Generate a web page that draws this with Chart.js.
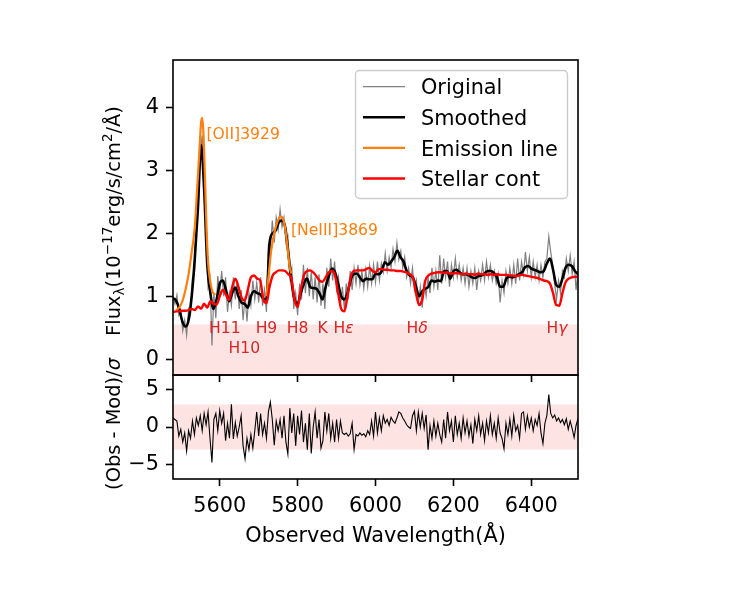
<!DOCTYPE html>
<html>
<head>
<meta charset="utf-8">
<title>Spectrum fit</title>
<script src="https://cdn.jsdelivr.net/npm/chart.js@4.4.0/dist/chart.umd.min.js"></script>
<style>
  html, body { margin: 0; padding: 0; background: #fff; }
  #wrap { position: relative; width: 750px; height: 600px; }
  canvas { position: absolute; left: 0; }
  #bottom { top: 345px; }
  #top { top: 0; }
</style>
</head>
<body>
<div id="wrap">
  <canvas id="bottom" width="750" height="255"></canvas>
  <canvas id="top" width="750" height="415"></canvas>
</div>
<script>
// Observed wavelength grid of the raw spectrum (5 A steps)
const waveFine = [
  5480, 5485, 5490, 5495, 5500, 5505, 5510, 5515, 5520, 5525,
  5530, 5535, 5540, 5545, 5550, 5555, 5560, 5565, 5570, 5575,
  5580, 5585, 5590, 5595, 5600, 5605, 5610, 5615, 5620, 5625,
  5630, 5635, 5640, 5645, 5650, 5655, 5660, 5665, 5670, 5675,
  5680, 5685, 5690, 5695, 5700, 5705, 5710, 5715, 5720, 5725,
  5730, 5735, 5740, 5745, 5750, 5755, 5760, 5765, 5770, 5775,
  5780, 5785, 5790, 5795, 5800, 5805, 5810, 5815, 5820, 5825,
  5830, 5835, 5840, 5845, 5850, 5855, 5860, 5865, 5870, 5875,
  5880, 5885, 5890, 5895, 5900, 5905, 5910, 5915, 5920, 5925,
  5930, 5935, 5940, 5945, 5950, 5955, 5960, 5965, 5970, 5975,
  5980, 5985, 5990, 5995, 6000, 6005, 6010, 6015, 6020, 6025,
  6030, 6035, 6040, 6045, 6050, 6055, 6060, 6065, 6070, 6075,
  6080, 6085, 6090, 6095, 6100, 6105, 6110, 6115, 6120, 6125,
  6130, 6135, 6140, 6145, 6150, 6155, 6160, 6165, 6170, 6175,
  6180, 6185, 6190, 6195, 6200, 6205, 6210, 6215, 6220, 6225,
  6230, 6235, 6240, 6245, 6250, 6255, 6260, 6265, 6270, 6275,
  6280, 6285, 6290, 6295, 6300, 6305, 6310, 6315, 6320, 6325,
  6330, 6335, 6340, 6345, 6350, 6355, 6360, 6365, 6370, 6375,
  6380, 6385, 6390, 6395, 6400, 6405, 6410, 6415, 6420, 6425,
  6430, 6435, 6440, 6445, 6450, 6455, 6460, 6465, 6470, 6475,
  6480, 6485, 6490, 6495, 6500, 6505, 6510, 6515, 6520
];

const fluxOriginal = [
  1.00, 0.88, 1.02, 0.70, 0.78, 0.45, 0.62, 0.38, 0.80, 0.72,
  1.30, 1.35, 2.10, 2.45, 3.30, 3.55, 2.80, 2.00, 1.15, 1.30,
  0.22, 1.05, 0.65, 1.32, 1.05, 1.40, 1.00, 1.30, 0.75, 1.05,
  0.85, 1.30, 0.95, 1.25, 0.80, 1.10, 0.62, 1.00, 0.60, 1.05,
  0.85, 1.25, 0.95, 1.22, 0.90, 1.30, 0.85, 1.10, 0.75, 1.80,
  1.75, 2.20, 1.85, 2.25, 2.05, 2.38, 2.10, 2.25, 1.85, 1.95,
  1.30, 1.45, 0.80, 1.05, 0.70, 1.20, 0.95, 1.50, 1.05, 1.45,
  1.00, 1.40, 0.95, 1.30, 0.90, 1.35, 0.85, 1.20, 0.80, 1.45,
  1.15, 1.60, 1.25, 1.55, 1.10, 1.30, 0.85, 1.15, 0.80, 1.20,
  0.95, 1.40, 1.10, 1.45, 1.20, 1.50, 1.18, 1.40, 1.12, 1.42,
  1.15, 1.48, 1.20, 1.50, 1.22, 1.55, 1.25, 1.52, 1.38, 1.68,
  1.40, 1.62, 1.45, 1.75, 1.55, 1.85, 1.58, 1.72, 1.45, 1.62,
  1.30, 1.45, 1.20, 1.45, 1.10, 1.25, 0.88, 1.15, 0.82, 1.20,
  1.00, 1.30, 1.05, 1.45, 1.15, 1.40, 1.10, 1.65, 1.20, 1.60,
  1.30, 1.55, 1.15, 1.50, 1.30, 1.60, 1.30, 1.50, 1.25, 1.45,
  1.20, 1.45, 1.15, 1.40, 1.20, 1.45, 1.10, 1.40, 1.25, 1.50,
  1.25, 1.55, 1.30, 1.50, 1.25, 1.40, 1.20, 1.35, 0.90, 1.25,
  1.05, 1.40, 1.20, 1.45, 1.20, 1.50, 1.20, 1.60, 1.25, 1.55,
  1.35, 1.70, 1.40, 1.62, 1.30, 1.55, 1.30, 1.50, 1.25, 1.50,
  1.30, 1.55, 1.60, 1.95, 1.70, 1.50, 1.20, 0.95, 1.25, 1.05,
  1.40, 1.30, 1.60, 1.40, 1.65, 1.35, 1.55, 1.10, 1.40
];

// (Obs - Mod)/sigma on the same grid
const residual = [
  1.2, 1.0, 0.8, -1.2, -0.3, -2.0, -0.8, -3.2, -0.5, -1.5,
  0.8, -1.0, 1.2, 0.2, 1.5, -0.5, 1.8, 0.3, 2.0, -1.5,
  -4.7, 1.0, 1.8, -0.5, 2.2, 0.5, 1.8, -1.8, 0.5, -1.5,
  3.0, -1.6, 0.6, -1.2, 0.0, 1.5, -2.5, -4.2, -1.5, -3.0,
  -1.0, -2.8, -0.5, 2.0, -1.2, 1.8, -1.0, 0.5, -1.5, 2.0,
  3.3, 1.0, -2.4, 0.8, -0.5, 1.0, -1.5, 1.5, -2.0, -3.6,
  2.5, -0.8, 1.8, -2.5, 1.5, -1.0, 2.2, -2.0, 0.5, -3.0,
  1.8, -3.5, 0.0, 2.0, -1.5, 1.0, -2.8, -1.8, 2.0, -0.5,
  1.8, -1.5, 0.5, -2.0, 1.0, -1.5, 0.8, -0.8, -1.0, -0.8,
  -1.2, -0.9, 0.5, -3.0, -1.0, -1.2, -0.8, -1.1, -0.9, -1.3,
  -0.5, -1.0, 0.8, -1.2, 2.0, -0.8, 1.2, -0.5, 1.5, 0.5,
  1.0, 0.2, 1.3, 0.8, 0.5, 1.2, 2.0, 1.8, 1.2, 0.8,
  0.3, 0.0, -0.2, 1.5, 2.1, -0.5, 2.0, 0.0, 1.8, -0.2,
  1.6, -3.0, 0.2, -1.5, 0.8, -1.2, 0.5, -1.0, -2.0, 1.0,
  -1.5, 2.0, -0.5, 0.8, -2.0, 1.5, -1.0, 0.5, -1.5, 1.2,
  -0.8, 0.8, -1.2, 0.3, -2.2, 1.0, -0.5, 1.5, -1.0, 0.5,
  -1.8, 0.8, -0.8, 1.5, -1.0, 0.5, -1.5, 1.2, -0.8, -1.5,
  -2.9, 0.5, -1.0, 1.0, -1.2, 1.5, -0.5, 0.2, -1.5, 1.8,
  2.0, -0.3, 1.5, 0.0, 1.2, -0.5, 1.0, 0.2, 1.8, -0.8,
  -2.2, 0.5, 1.5, 4.3, 1.8, 1.2, 1.6, 0.8, 1.2, 0.6,
  1.0, 0.3, 1.1, -0.3, 0.8, -0.2, -1.4, 0.2, 1.1
];

// Smoothed spectrum and stellar continuum model (8 A steps)
const waveSmooth = [
  5480, 5488, 5496, 5504, 5512, 5520, 5528, 5536, 5544, 5552,
  5560, 5568, 5576, 5584, 5592, 5600, 5608, 5616, 5624, 5632,
  5640, 5648, 5656, 5664, 5672, 5680, 5688, 5696, 5704, 5712,
  5720, 5728, 5736, 5744, 5752, 5760, 5768, 5776, 5784, 5792,
  5800, 5808, 5816, 5824, 5832, 5840, 5848, 5856, 5864, 5872,
  5880, 5888, 5896, 5904, 5912, 5920, 5928, 5936, 5944, 5952,
  5960, 5968, 5976, 5984, 5992, 6000, 6008, 6016, 6024, 6032,
  6040, 6048, 6056, 6064, 6072, 6080, 6088, 6096, 6104, 6112,
  6120, 6128, 6136, 6144, 6152, 6160, 6168, 6176, 6184, 6192,
  6200, 6208, 6216, 6224, 6232, 6240, 6248, 6256, 6264, 6272,
  6280, 6288, 6296, 6304, 6312, 6320, 6328, 6336, 6344, 6352,
  6360, 6368, 6376, 6384, 6392, 6400, 6408, 6416, 6424, 6432,
  6440, 6448, 6456, 6464, 6472, 6480, 6488, 6496, 6504, 6512,
  6520
];

const fluxSmoothed = [
  0.97, 0.93, 0.80, 0.60, 0.52, 0.62, 1.00, 1.60, 2.40, 3.40,
  2.70, 1.50, 1.05, 0.80, 0.95, 1.20, 1.25, 1.10, 0.92, 1.05,
  1.14, 1.00, 0.90, 0.88, 0.82, 1.00, 1.08, 1.05, 1.03, 0.96,
  0.95, 1.85, 2.00, 2.05, 2.18, 2.20, 2.10, 1.70, 1.25, 0.95,
  0.88, 1.05, 1.20, 1.28, 1.15, 1.13, 1.12, 1.05, 0.95, 1.15,
  1.32, 1.44, 1.38, 1.20, 1.00, 0.95, 1.05, 1.25, 1.35, 1.36,
  1.30, 1.24, 1.28, 1.27, 1.27, 1.36, 1.35, 1.40, 1.54, 1.50,
  1.55, 1.62, 1.72, 1.62, 1.55, 1.40, 1.33, 1.30, 1.15, 1.00,
  1.08, 1.12, 1.15, 1.25, 1.23, 1.25, 1.24, 1.40, 1.40, 1.28,
  1.40, 1.42, 1.38, 1.35, 1.35, 1.33, 1.30, 1.29, 1.32, 1.33,
  1.36, 1.40, 1.40, 1.37, 1.30, 1.15, 1.15, 1.28, 1.31, 1.30,
  1.32, 1.35, 1.38, 1.46, 1.48, 1.44, 1.42, 1.40, 1.38, 1.40,
  1.52, 1.60, 1.42, 1.18, 1.15, 1.28, 1.45, 1.50, 1.48, 1.40,
  1.35
];

const fluxStellar = [
  0.75, 0.76, 0.76, 0.77, 0.77, 0.78, 0.80, 0.78, 0.84, 0.80,
  0.88, 0.82, 0.92, 0.88, 0.87, 1.00, 1.10, 1.02, 0.94, 1.15,
  1.28, 1.15, 0.98, 0.93, 1.10, 1.30, 1.33, 1.28, 1.25, 0.95,
  0.89, 1.15, 1.33, 1.38, 1.41, 1.41, 1.40, 1.35, 1.28, 0.95,
  0.83, 1.10, 1.33, 1.40, 1.41, 1.38, 1.32, 1.25, 1.23, 1.30,
  1.38, 1.40, 1.33, 1.05, 0.80, 0.76, 1.00, 1.30, 1.40, 1.41,
  1.41, 1.41, 1.43, 1.45, 1.40, 1.38, 1.43, 1.43, 1.42, 1.42,
  1.41, 1.41, 1.40, 1.40, 1.39, 1.38, 1.35, 1.30, 1.05, 0.86,
  0.95, 1.25, 1.33, 1.36, 1.37, 1.38, 1.38, 1.37, 1.38, 1.36,
  1.36, 1.37, 1.36, 1.35, 1.36, 1.35, 1.35, 1.34, 1.36, 1.35,
  1.35, 1.34, 1.35, 1.34, 1.35, 1.34, 1.34, 1.34, 1.33, 1.33,
  1.32, 1.33, 1.34, 1.33, 1.32, 1.31, 1.30, 1.29, 1.27, 1.25,
  1.24, 1.20, 1.05, 0.86, 0.85, 1.05, 1.22, 1.28, 1.30, 1.31,
  1.31
];

// Emission line fits (line + continuum)
const waveOII = [5488, 5496, 5504, 5512, 5520, 5528, 5536, 5542, 5548, 5552, 5555, 5558, 5562, 5566, 5570, 5574, 5580, 5588];
const fluxOII = [0.78, 0.82, 0.92, 1.10, 1.35, 1.70, 2.10, 2.70, 3.32, 3.75, 3.83, 3.60, 2.90, 2.10, 1.55, 1.30, 1.10, 1.02];
const waveNeIII = [5720, 5726, 5732, 5740, 5748, 5756, 5762, 5768, 5774, 5780, 5784];
const fluxNeIII = [1.00, 1.35, 1.72, 2.00, 2.18, 2.27, 2.24, 2.08, 1.78, 1.45, 1.36];

// ticks and bands
const waveTicks = [5600, 5800, 6000, 6200, 6400];
const fluxTicks = [0, 1, 2, 3, 4];
const residTicks = [-5, 0, 5];
const fluxBandTop = 0.55;
const residBand = 3;

// annotations (anchored in data units)
const emissionLabels = ['[OII]3929', '[NeIII]3869'];
const emissionLabelWave = [5566, 5783];
const emissionLabelFlux = [3.50, 1.98];
const absLabels = ['H11', 'H10', 'H9', 'H8', 'K', 'H\u03b5', 'H\u03b4', 'H\u03b3'];
const absLabelWave = [5613, 5663, 5720, 5800, 5864, 5918, 6107, 6466];
const absLabelFlux = [0.41, 0.10, 0.41, 0.41, 0.41, 0.41, 0.41, 0.41];

const legendLabels = ['Original', 'Smoothed', 'Emission line', 'Stellar cont'];

const GRAY = '#808080';
const ORANGE = '#ff7f0e';
const RED = '#ff0000';
const LABEL_RED = '#d62728';
const BAND = 'rgba(250, 128, 128, 0.22)';
const FONT = '"DejaVu Sans", sans-serif';
const TICK_SIZE = 20.8;

Chart.defaults.font.family = FONT;
Chart.defaults.color = '#000';

const pts = (xs, ys) => xs.map((x, i) => ({ x: x, y: ys[i] }));

// draws a run of text pieces, with optional italic / super / subscript pieces
function drawRich(ctx, parts, o) {
  const fontOf = p => (p.italic ? 'italic ' : '') + ((p.sub || p.sup) ? o.size * 0.7 : o.size) + 'px ' + FONT;
  ctx.save();
  ctx.translate(o.x, o.y);
  if (o.rotate) ctx.rotate(-Math.PI / 2);
  let total = 0;
  const widths = parts.map(p => {
    ctx.font = fontOf(p);
    const w = ctx.measureText(p.t).width;
    total += w;
    return w;
  });
  let x = o.align === 'left' ? 0 : -total / 2;
  ctx.fillStyle = o.color || '#000';
  ctx.textAlign = 'left';
  ctx.textBaseline = 'alphabetic';
  parts.forEach((p, i) => {
    ctx.font = fontOf(p);
    const dy = p.sup ? -0.42 * o.size : (p.sub ? 0.22 * o.size : 0);
    ctx.fillText(p.t, x, dy);
    x += widths[i];
  });
  ctx.restore();
}

function greekParts(text) {
  return Array.from(text).map(ch => ({ t: ch, italic: /[\u03b1-\u03c9]/.test(ch) }));
}

function fixedTicks(list) {
  return scale => { scale.ticks = list.map(v => ({ value: v })); };
}

const tickGrid = { drawOnChartArea: false, drawTicks: true, tickLength: 7, tickColor: '#000', tickWidth: 1.6 };

const framePlugin = {
  id: 'frame',
  afterDatasetsDraw(chart) {
    const { ctx, chartArea: a } = chart;
    ctx.save();
    ctx.strokeStyle = '#000';
    ctx.lineWidth = 1.6;
    ctx.strokeRect(a.left, a.top, a.right - a.left, a.bottom - a.top);
    ctx.restore();
  }
};

// labels, legend and y title of the flux panel
const fluxDecor = {
  id: 'fluxDecor',
  afterDatasetsDraw(chart) {
    const { ctx, scales } = chart;
    emissionLabels.forEach((t, i) => {
      drawRich(ctx, [{ t: t }], {
        x: scales.x.getPixelForValue(emissionLabelWave[i]),
        y: scales.y.getPixelForValue(emissionLabelFlux[i]),
        size: 15.6, align: 'left', color: ORANGE
      });
    });
    absLabels.forEach((t, i) => {
      drawRich(ctx, greekParts(t), {
        x: scales.x.getPixelForValue(absLabelWave[i]),
        y: scales.y.getPixelForValue(absLabelFlux[i]),
        size: 15.6, align: 'center', color: LABEL_RED
      });
    });
  },
  afterDraw(chart) {
    const ctx = chart.ctx;
    // legend
    const styles = [
      { color: GRAY, width: 1.2 },
      { color: '#000', width: 2.6 },
      { color: ORANGE, width: 2.2 },
      { color: RED, width: 2.4 }
    ];
    ctx.save();
    ctx.beginPath();
    ctx.roundRect(355.5, 70.5, 212, 128, 4);
    ctx.fillStyle = 'rgba(255,255,255,0.8)';
    ctx.fill();
    ctx.strokeStyle = '#cccccc';
    ctx.lineWidth = 1.4;
    ctx.stroke();
    legendLabels.forEach((lab, i) => {
      const cy = 86.7 + i * 30.6;
      ctx.beginPath();
      ctx.moveTo(363, cy);
      ctx.lineTo(405, cy);
      ctx.strokeStyle = styles[i].color;
      ctx.lineWidth = styles[i].width;
      ctx.stroke();
      ctx.fillStyle = '#000';
      ctx.font = TICK_SIZE + 'px ' + FONT;
      ctx.textBaseline = 'alphabetic';
      ctx.fillText(lab, 421, cy + 7.6);
    });
    ctx.restore();
    drawRich(ctx, [
      { t: 'Flux' }, { t: '\u03bb', sub: true }, { t: '(10' }, { t: '\u221217', sup: true },
      { t: 'erg/s/cm' }, { t: '2', sup: true }, { t: '/\u00c5)' }
    ], { x: 120, y: 221, size: 19.4, rotate: true });
  }
};

const residDecor = {
  id: 'residDecor',
  afterDraw(chart) {
    const { ctx, scales } = chart;
    // wavelength tick labels
    waveTicks.forEach(v => {
      drawRich(ctx, [{ t: String(v) }], { x: scales.x.getPixelForValue(v), y: scales.x.top + 33, size: TICK_SIZE });
    });
    drawRich(ctx, [{ t: '(Obs - Mod)/' }, { t: '\u03c3', italic: true }], { x: 120, y: 79, size: 19.4, rotate: true });
    drawRich(ctx, [{ t: 'Observed Wavelength(\u00c5)' }], { x: 375.5, y: 197, size: TICK_SIZE });
  }
};

const lineDefaults = { pointRadius: 0, fill: false };

new Chart(document.getElementById('top'), {
  type: 'line',
  data: {
    datasets: [
      { ...lineDefaults, data: pts([5480, 6520], [fluxBandTop, fluxBandTop]), borderWidth: 0, borderColor: 'rgba(0,0,0,0)', backgroundColor: BAND, fill: 'start', order: 6 },
      { ...lineDefaults, data: pts(waveFine, fluxOriginal), borderColor: GRAY, borderWidth: 1.2, order: 5 },
      { ...lineDefaults, data: pts(waveSmooth, fluxSmoothed), borderColor: '#000', borderWidth: 2.6, cubicInterpolationMode: 'monotone', order: 4 },
      { ...lineDefaults, data: pts(waveOII, fluxOII), borderColor: ORANGE, borderWidth: 2.2, cubicInterpolationMode: 'monotone', order: 3 },
      { ...lineDefaults, data: pts(waveNeIII, fluxNeIII), borderColor: ORANGE, borderWidth: 2.2, cubicInterpolationMode: 'monotone', order: 3 },
      { ...lineDefaults, data: pts(waveSmooth, fluxStellar), borderColor: RED, borderWidth: 2.4, cubicInterpolationMode: 'monotone', order: 1 }
    ]
  },
  options: {
    responsive: false,
    animation: false,
    events: [],
    layout: { padding: { left: 0, right: 172, top: 60, bottom: 0 } },
    plugins: { legend: { display: false }, tooltip: { enabled: false } },
    scales: {
      x: {
        type: 'linear', min: 5480, max: 6520,
        afterBuildTicks: fixedTicks(waveTicks),
        ticks: { display: false },
        grid: tickGrid,
        border: { display: false },
        afterFit: s => { s.height = 40; }
      },
      y: {
        type: 'linear', min: -0.25, max: 4.75,
        afterBuildTicks: fixedTicks(fluxTicks),
        ticks: { font: { size: TICK_SIZE }, padding: 7, color: '#000' },
        grid: tickGrid,
        border: { display: false },
        afterFit: s => { s.width = 173; }
      }
    }
  },
  plugins: [framePlugin, fluxDecor]
});

new Chart(document.getElementById('bottom'), {
  type: 'line',
  data: {
    datasets: [
      { ...lineDefaults, data: pts([5480, 6520], [residBand, residBand]), borderWidth: 0, borderColor: 'rgba(0,0,0,0)', backgroundColor: BAND, fill: '+1', order: 3 },
      { ...lineDefaults, data: pts([5480, 6520], [-residBand, -residBand]), borderWidth: 0, borderColor: 'rgba(0,0,0,0)', order: 3 },
      { ...lineDefaults, data: pts(waveFine, residual), borderColor: '#000', borderWidth: 1.1, order: 1 }
    ]
  },
  options: {
    responsive: false,
    animation: false,
    events: [],
    layout: { padding: { left: 0, right: 172, top: 30, bottom: 0 } },
    plugins: { legend: { display: false }, tooltip: { enabled: false } },
    scales: {
      x: {
        type: 'linear', min: 5480, max: 6520,
        afterBuildTicks: fixedTicks(waveTicks),
        ticks: { display: false },
        grid: tickGrid,
        border: { display: false },
        afterFit: s => { s.height = 121; }
      },
      y: {
        type: 'linear', min: -6.9, max: 6.9,
        afterBuildTicks: fixedTicks(residTicks),
        ticks: { font: { size: TICK_SIZE }, padding: 7, color: '#000', callback: v => (v < 0 ? '\u2212' + Math.abs(v) : String(v)) },
        grid: tickGrid,
        border: { display: false },
        afterFit: s => { s.width = 173; }
      }
    }
  },
  plugins: [framePlugin, residDecor]
});
</script>
</body>
</html>
